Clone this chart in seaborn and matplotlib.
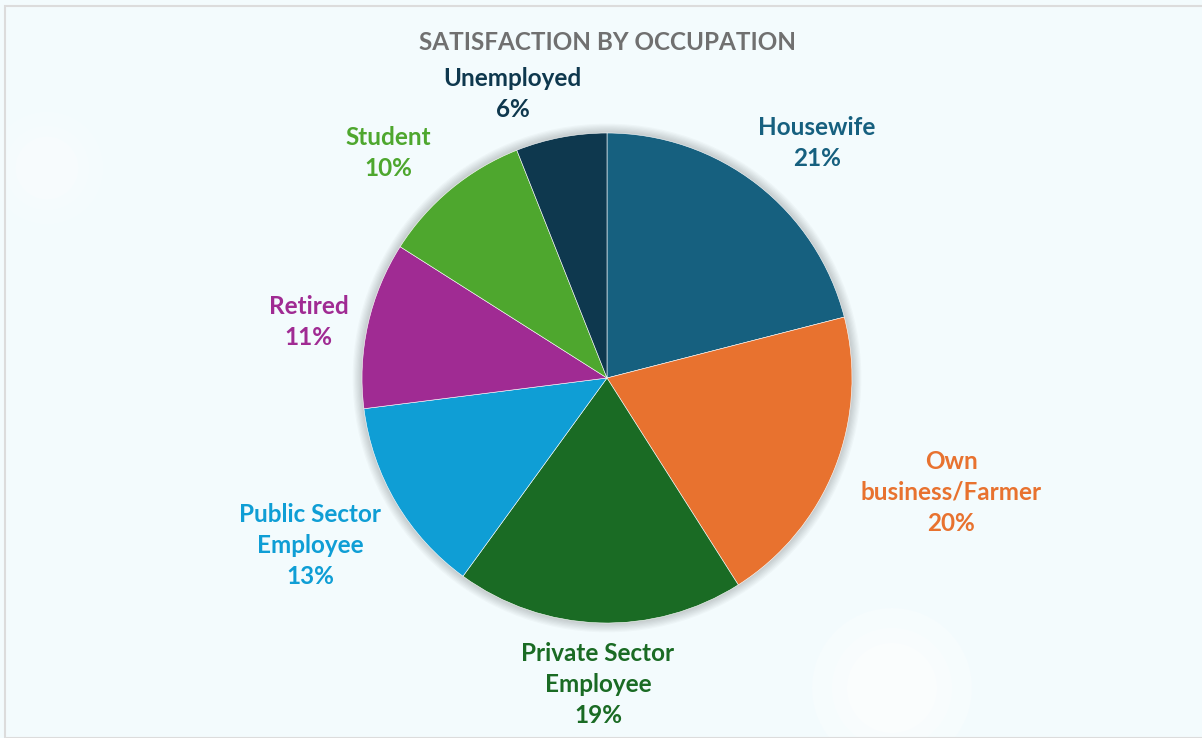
import numpy as np
import seaborn as sns
import matplotlib.pyplot as plt
from matplotlib.patches import Circle, Rectangle

sns.set_style("white")
plt.rcParams['font.family'] = ['Lato', 'DejaVu Sans']

occupations = ["Housewife", "Own\nbusiness/Farmer", "Private Sector\nEmployee",
               "Public Sector\nEmployee", "Retired", "Student", "Unemployed"]
shares = [21, 20, 19, 13, 11, 10, 6]
colors = ["#16607f", "#e8722f", "#1a6b24", "#0f9ed5", "#a02b93", "#4ea72e", "#0e384e"]

# label placement: radial distance (in radii) and angle nudge (deg) per slice
label_dist = [1.286, 1.48, 1.25, 1.39, 1.24, 1.28, 1.22]
label_nudge = [-4.0, 3.2, 0.1, -1.2, 2.0, 4.6, 7.6]

bg = "#f3fbfd"
fig = plt.figure(figsize=(12.02, 7.38), dpi=100, facecolor=bg)
ax = fig.add_axes([0, 0, 1, 1])
ax.set_facecolor(bg)

R = 245
# soft white glow blobs in background
for r, a in [(80, 0.25), (60, 0.3), (45, 0.35)]:
    ax.add_patch(Circle((285, -310), r, color="white", alpha=a, lw=0, zorder=0))
    ax.add_patch(Circle((-560, 210), r * 0.7, color="white", alpha=a * 0.6, lw=0, zorder=0))

# soft shadow around the pie
for k in range(8):
    ax.add_patch(Circle((0, 0), R + 1 + k * 1.2, color="#000000", alpha=0.025, lw=0, zorder=1))

wedges, _ = ax.pie(shares, colors=colors, startangle=90, counterclock=False,
                   radius=R, center=(0, 0), frame=True,
                   wedgeprops=dict(edgecolor="#ffffff", linewidth=0.4, zorder=2))
ax.set_xlim(-607, 1202 - 607)
ax.set_ylim(-(738 - 378), 378)
ax.set_aspect("equal")
ax.axis("off")

for w, name, val, c, d, nd in zip(wedges, occupations, shares, colors, label_dist, label_nudge):
    ang = np.deg2rad((w.theta1 + w.theta2) / 2 + nd)
    x, y = d * R * np.cos(ang), d * R * np.sin(ang)
    ax.text(x, y, f"{name}\n{val}%", color=c, ha="center", va="center",
            fontsize=17.5, fontweight="bold", linespacing=1.42, zorder=5)

fig.text(0.505, 1 - 42 / 738, "SATISFACTION BY OCCUPATION", ha="center", va="center",
         fontsize=17.5, fontweight="bold", color="#707070")

fig.patches.append(Rectangle((5 / 1202, 0), 1.1, 1 - 6 / 738, transform=fig.transFigure,
                             fill=False, edgecolor="#dcdcdc", linewidth=1.5))

fig.savefig("out.png", dpi=100, facecolor=bg)
